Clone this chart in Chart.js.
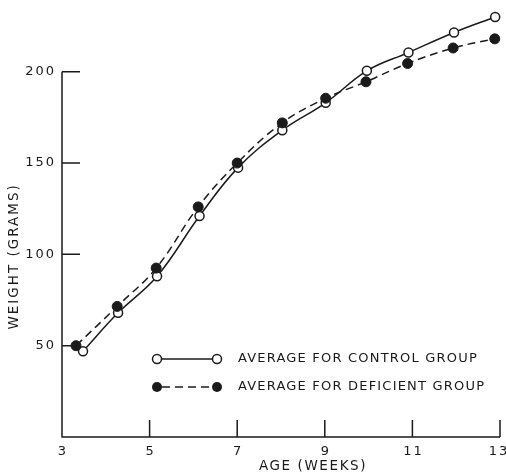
<!DOCTYPE html>
<html>
<head>
<meta charset="utf-8">
<script src="https://cdn.jsdelivr.net/npm/chart.js@4"></script>
<style>
html,body{margin:0;padding:0;background:#fff;}
#wrap{width:506px;height:475px;position:relative;}
</style>
</head>
<body>
<div id="wrap"><canvas id="c" width="506" height="475"></canvas></div>
<script>
// Data
const controlWeeks   = [3.48, 4.28, 5.17, 6.14, 7.02, 8.03, 9.02, 9.96, 10.91, 11.95, 12.89];
const controlWeight  = [47, 68, 88, 121, 147.5, 168, 183, 200.5, 210.5, 221.5, 230];
const deficientWeeks = [3.32, 4.26, 5.15, 6.11, 7.00, 8.03, 9.02, 9.94, 10.89, 11.93, 12.88];
const deficientWeight= [50, 71.5, 92.5, 126, 150, 172, 185.5, 194.5, 204.5, 213, 218];
const xTicks = [3, 5, 7, 9, 11, 13];
const yTicks = [50, 100, 150, 200];
const seriesLabels = ['AVERAGE FOR CONTROL GROUP', 'AVERAGE FOR DEFICIENT GROUP'];
const xTitle = 'AGE (WEEKS)';
const yTitle = 'WEIGHT (GRAMS)';

const toPts = (xs, ys) => xs.map((x, i) => ({x: x, y: ys[i]}));
const INK = '#1a1a1a';
const FONT = '13px "DejaVu Sans"';

const axesPlugin = {
  id: 'paperAxes',
  afterDraw(chart) {
    const ctx = chart.ctx;
    const xs = chart.scales.x, ys = chart.scales.y;
    const x0 = xs.getPixelForValue(3), x1 = xs.getPixelForValue(13);
    const y0 = ys.getPixelForValue(0), y1 = ys.getPixelForValue(200);
    ctx.save();
    ctx.strokeStyle = INK;
    ctx.lineWidth = 1.5;
    ctx.beginPath();
    ctx.moveTo(x0, y1); ctx.lineTo(x0, y0); ctx.lineTo(x1, y0);
    // inward ticks
    xTicks.forEach(v => { if (v === 3) return; const px = xs.getPixelForValue(v); ctx.moveTo(px, y0); ctx.lineTo(px, y0 - 17); });
    yTicks.forEach(v => { const py = ys.getPixelForValue(v); ctx.moveTo(x0, py); ctx.lineTo(x0 + 18, py); });
    ctx.stroke();

    ctx.fillStyle = INK;
    ctx.font = FONT;
    ctx.letterSpacing = '2px';
    ctx.textBaseline = 'middle';
    ctx.textAlign = 'right';
    yTicks.forEach(v => ctx.fillText(String(v), x0 - 6, ys.getPixelForValue(v)));
    ctx.textAlign = 'center';
    xTicks.forEach(v => {
      let px = xs.getPixelForValue(v);
      if (v === 13) px -= 2;
      ctx.fillText(String(v), px + 1, y0 + 15);
    });
    ctx.font = '13.5px "DejaVu Sans"';
    ctx.letterSpacing = '1.6px';
    ctx.fillText(xTitle, (x0 + x1) / 2 + 32, y0 + 29);
    ctx.save();
    ctx.translate(14, (y0 + y1) / 2 + 2);
    ctx.rotate(-Math.PI / 2);
    ctx.letterSpacing = '2px';
    ctx.fillText(yTitle, 0, 0);
    ctx.restore();

    // legend
    ctx.font = FONT;
    const lx0 = 157, lx1 = 217, rows = [359, 387];
    ctx.lineWidth = 1.5;
    ctx.beginPath(); ctx.setLineDash([]); ctx.moveTo(lx0, rows[0]); ctx.lineTo(lx1, rows[0]); ctx.stroke();
    ctx.beginPath(); ctx.setLineDash([8, 5]); ctx.moveTo(lx0 + 5, rows[1]); ctx.lineTo(lx1 - 5, rows[1]); ctx.stroke();
    ctx.setLineDash([]);
    [lx0, lx1].forEach(px => {
      ctx.beginPath(); ctx.arc(px, rows[0], 4.5, 0, Math.PI * 2); ctx.fillStyle = '#fff'; ctx.fill(); ctx.stroke();
      ctx.beginPath(); ctx.arc(px, rows[1], 5, 0, Math.PI * 2); ctx.fillStyle = INK; ctx.fill();
    });
    ctx.fillStyle = INK;
    ctx.textAlign = 'left';
    ctx.letterSpacing = '1.2px';
    ctx.fillText(seriesLabels[0], 238, rows[0]);
    ctx.fillText(seriesLabels[1], 238, rows[1]);
    ctx.restore();
  }
};

new Chart(document.getElementById('c'), {
  type: 'scatter',
  data: {
    datasets: [
      {
        label: seriesLabels[1],
        data: toPts(deficientWeeks, deficientWeight),
        showLine: true,
        tension: 0.4,
        borderColor: INK,
        borderWidth: 1.5,
        borderDash: [8, 5],
        pointRadius: 5,
        pointBackgroundColor: INK,
        pointBorderColor: INK,
        pointBorderWidth: 1,
        clip: false
      },
      {
        label: seriesLabels[0],
        data: toPts(controlWeeks, controlWeight),
        showLine: true,
        tension: 0.4,
        borderColor: INK,
        borderWidth: 1.5,
        pointRadius: 4.5,
        pointBackgroundColor: '#fff',
        pointBorderColor: INK,
        pointBorderWidth: 1.5,
        clip: false
      }
    ]
  },
  options: {
    responsive: false,
    animation: false,
    devicePixelRatio: 1,
    layout: { padding: { left: 62, right: 6, top: 3, bottom: 38 } },
    plugins: { legend: { display: false }, tooltip: { enabled: false } },
    scales: {
      x: { type: 'linear', display: false, min: 3, max: 13 },
      y: { type: 'linear', display: false, min: 0, max: 236 }
    }
  },
  plugins: [axesPlugin]
});
</script>
</body>
</html>
